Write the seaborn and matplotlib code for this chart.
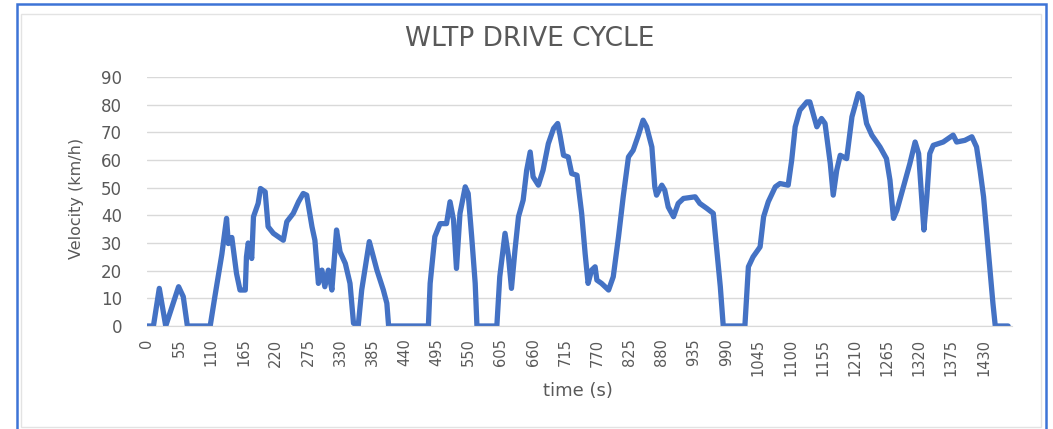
import matplotlib
matplotlib.use("Agg")
import matplotlib.pyplot as plt
import seaborn as sns
from matplotlib.patches import Rectangle

# WLTP drive cycle, key points
time_s = [0, 11, 21, 32, 54, 62, 69, 108, 116, 128, 136, 139, 145, 153, 159, 168,
          170, 173, 179, 182, 190, 194, 202, 207, 216, 233, 239, 250, 259, 267, 273,
          282, 287, 293, 299, 304, 310, 316, 324, 330, 339, 347, 353, 361, 367, 380,
          393, 404, 410, 413, 481, 484, 492, 501, 512, 518, 524, 529, 535, 544, 549,
          555, 561, 564, 598, 603, 612, 618, 623, 629, 635, 643, 649, 655, 660, 669,
          677, 686, 695, 702, 706, 712, 720, 726, 735, 743, 749, 754, 760, 766, 769,
          777, 789, 797, 806, 814, 823, 831, 840, 848, 854, 863, 868, 871, 880, 885,
          891, 900, 908, 917, 937, 945, 957, 968, 974, 980, 985, 1022, 1028, 1036,
          1048, 1054, 1062, 1074, 1082, 1096, 1102, 1108, 1116, 1128, 1133, 1145,
          1153, 1159, 1168, 1173, 1179, 1185, 1196, 1205, 1216, 1222, 1230, 1239,
          1253, 1264, 1270, 1276, 1282, 1293, 1304, 1313, 1319, 1324, 1328, 1333,
          1338, 1344, 1361, 1378, 1384, 1398, 1410, 1418, 1424, 1430, 1435, 1441,
          1446, 1450, 1472]
velocity = [0, 0, 13.6, 0, 14.2, 10.6, 0, 0, 10.6, 26, 38.9, 29.8, 32, 19, 13, 13,
            25, 30, 24.4, 39.5, 44.3, 49.7, 48.5, 35.9, 33.5, 31, 37.7, 40.7, 44.9, 47.9, 47.3,
            35.9, 31, 15.4, 20.2, 14.2, 20.2, 13, 34.7, 26.8, 22.6, 15.4, 1, 0, 13, 30.5,
            20.2, 13, 8.2, 0, 0, 15.4, 32.3, 37, 37, 44.9, 38.3, 20.8, 40.7, 50.3, 47.9,
            32.3, 15.4, 0, 0, 17.8, 33.5, 25, 13.6, 27.4, 39.5, 45.5, 56.3, 62.9, 53.9, 50.9,
            56.3, 65.9, 71.4, 73.2, 69, 61.7, 61.1, 55.1, 54.5, 40.7, 26, 15.4, 20.2, 21.4, 16.6,
            15.4, 13, 17.8, 32.3, 46.7, 61.1, 63.5, 69, 74.4, 72, 64.7, 50.3, 47.3, 50.9, 49.1,
            43, 39.5, 44.3, 46.1, 46.7, 44.3, 42.5, 40.7, 27.4, 14.2, 0, 0, 21.4, 25,
            28.6, 39.5, 44.9, 50.3, 51.5, 50.9, 59.9, 72, 78, 81, 81, 72,
            75, 73.2, 58.7, 47.3, 56.3, 61.7, 60.5, 75.6, 84, 82.8, 73.2, 69,
            64.7, 60.5, 52.7, 38.9, 41.9, 50.3, 58.7, 66.5, 62.3, 46.7, 34.7, 46.7,
            62.3, 65.3, 66.5, 69, 66.5, 67.1, 68.4, 64.7, 56.3, 46.7, 34.7, 20.2,
            8.2, 0, 0]

x_ticks = list(range(0, 1431, 55))
y_ticks = [0, 10, 20, 30, 40, 50, 60, 70, 80, 90]

sns.set_style("white")
plt.rcParams["font.family"] = ["DejaVu Sans"]

text_grey = "#595959"
line_blue = "#4472C4"

fig = plt.figure(figsize=(10.53, 4.29), dpi=100)
ax = fig.add_axes([147 / 1053, 1 - 326 / 429, 865 / 1053, 249 / 429])

sns.lineplot(x=time_s, y=velocity, ax=ax, color=line_blue, linewidth=3.8,
             sort=False, solid_joinstyle="round", solid_capstyle="round")

ax.set_xlim(0, 1478.6)
ax.set_ylim(0, 90)
ax.set_xticks(x_ticks)
ax.set_xticklabels([str(t) for t in x_ticks], rotation=90, fontsize=10.5, color=text_grey)
ax.set_yticks(y_ticks)
ax.set_yticklabels([str(v) for v in y_ticks], fontsize=12, color=text_grey)
ax.tick_params(axis="x", length=0, pad=9)
ax.tick_params(axis="y", length=0, pad=18)
ax.grid(axis="y", color="#d9d9d9", linewidth=1)
ax.set_axisbelow(True)
for side in ["top", "right", "left"]:
    ax.spines[side].set_visible(False)
ax.spines["bottom"].set_color("#d9d9d9")
ax.set_xlabel("")
ax.set_ylabel("")

fig.text(530 / 1053, 1 - 39 / 429, "WLTP DRIVE CYCLE", ha="center", va="center",
         fontsize=19, color=text_grey)
fig.text(76 / 1053, 1 - 198 / 429, "Velocity (km/h)", ha="center", va="center",
         rotation=90, fontsize=11.5, color=text_grey)
fig.text(578 / 1053, 1 - 391 / 429, "time (s)", ha="center", va="center",
         fontsize=13, color=text_grey)

# faint chart-area border and the blue frame round the screenshot
fig.add_artist(Rectangle((21 / 1053, 2 / 429), (1041 - 21) / 1053, (421 - 8) / 429,
                         transform=fig.transFigure, fill=False,
                         edgecolor="#e3e3e3", linewidth=1))
fig.add_artist(Rectangle((17 / 1053, -0.2), (1046 - 17) / 1053, 1.2 - 4 / 429,
                         transform=fig.transFigure, fill=False,
                         edgecolor="#3d74d6", linewidth=1.8))

fig.savefig("out.png", dpi=100)
